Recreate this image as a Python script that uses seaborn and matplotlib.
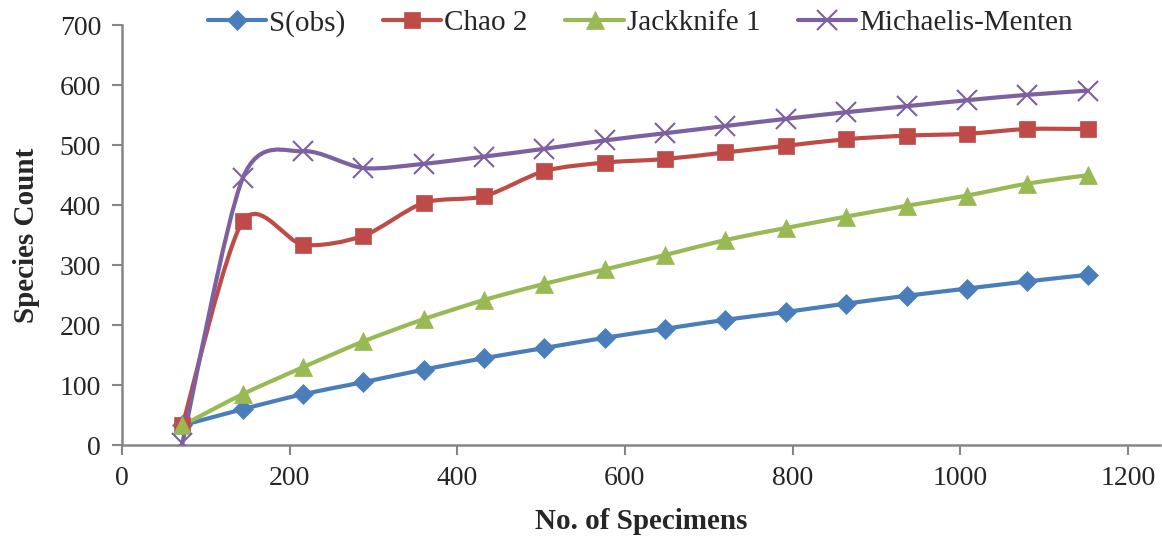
import numpy as np
import pandas as pd
import seaborn as sns
import matplotlib.pyplot as plt
from matplotlib.path import Path
from matplotlib.patches import PathPatch
from matplotlib.lines import Line2D

sns.set_style("white")
plt.rcParams['font.family'] = ['Liberation Serif', 'DejaVu Serif']

# data
specimens = [72, 144, 216, 288, 360, 432, 504, 576, 648, 720, 792, 864, 936, 1008, 1080, 1152]
s_obs = [33, 60, 85, 105, 126, 145, 162, 179, 194, 209, 222, 236, 249, 261, 273, 284]
chao2 = [33, 373, 334, 349, 404, 415, 457, 471, 477, 488, 499, 510, 516, 519, 527, 527]
jack1 = [33, 85, 130, 173, 210, 242, 269, 293, 317, 342, 362, 381, 399, 416, 436, 450]
mm = [3, 445, 490, 462, 469, 481, 494, 508, 520, 532, 544, 555, 565, 575, 584, 591]

series_names = ["S(obs)", "Chao 2", "Jackknife 1", "Michaelis-Menten"]
series_vals = [s_obs, chao2, jack1, mm]
colors = ["#4A7EBB", "#BE4B48", "#98B954", "#7D60A0"]
markers = ["D", "s", "^", "x"]
msizes = [10, 12, 13, 14]

df = pd.DataFrame({"x": specimens * 4,
                   "y": s_obs + chao2 + jack1 + mm,
                   "series": sum([[n] * len(specimens) for n in series_names], [])})


def smooth_path(xs, ys, t=0.14):
    # Excel-style smoothed line as cubic bezier through the points
    pts = np.column_stack([xs, ys]).astype(float)
    verts = [pts[0]]
    codes = [Path.MOVETO]
    n = len(pts)
    for i in range(n - 1):
        p0 = pts[max(i - 1, 0)]
        p1 = pts[i]
        p2 = pts[i + 1]
        p3 = pts[min(i + 2, n - 1)]
        c1 = p1 + (p2 - p0) * t
        c2 = p2 - (p3 - p1) * t
        verts += [c1, c2, p2]
        codes += [Path.CURVE4] * 3
    return Path(verts, codes)


fig = plt.figure(figsize=(11.62, 5.37), dpi=100)
ax = fig.add_axes([0.105, 0.171, 0.893, 0.782])

handles = []
for name, vals, c, m, ms in zip(series_names, series_vals, colors, markers, msizes):
    ax.add_patch(PathPatch(smooth_path(specimens, vals), fill=False, edgecolor=c,
                           lw=3, capstyle='round', joinstyle='round', zorder=2))
    sub = df[df["series"] == name]
    sns.lineplot(data=sub, x="x", y="y", ax=ax, linestyle="none", marker=m,
                 markersize=ms, color=c, markeredgecolor=c,
                 markeredgewidth=1.5 if m == "x" else 0.5, zorder=3, legend=False)
    handles.append(Line2D([], [], color=c, lw=3, marker=m, markersize=ms,
                          markeredgecolor=c, markeredgewidth=1.5 if m == "x" else 0.5))

ax.set_xlim(0, 1238)
ax.set_ylim(0, 700)
ax.set_xticks(range(0, 1201, 200))
ax.set_yticks(range(0, 701, 100))

for side in ["top", "right"]:
    ax.spines[side].set_visible(False)
for side in ["left", "bottom"]:
    ax.spines[side].set_color("#868686")
    ax.spines[side].set_linewidth(1.8)
ax.tick_params(axis="both", direction="out", length=7, width=1.5, color="#868686",
               labelsize=20, pad=8, left=True, bottom=True)

ax.set_xlabel("No. of Specimens", fontsize=21, fontweight="bold", labelpad=12)
ax.set_ylabel("Species Count", fontsize=21, fontweight="bold", labelpad=14)

fig.legend(handles, series_names, loc="center", bbox_to_anchor=(0.551, 0.957),
           ncol=4, frameon=False, fontsize=21, handlelength=2.0, handletextpad=0.1,
           columnspacing=1.3)

fig.savefig("out.png", dpi=100)
